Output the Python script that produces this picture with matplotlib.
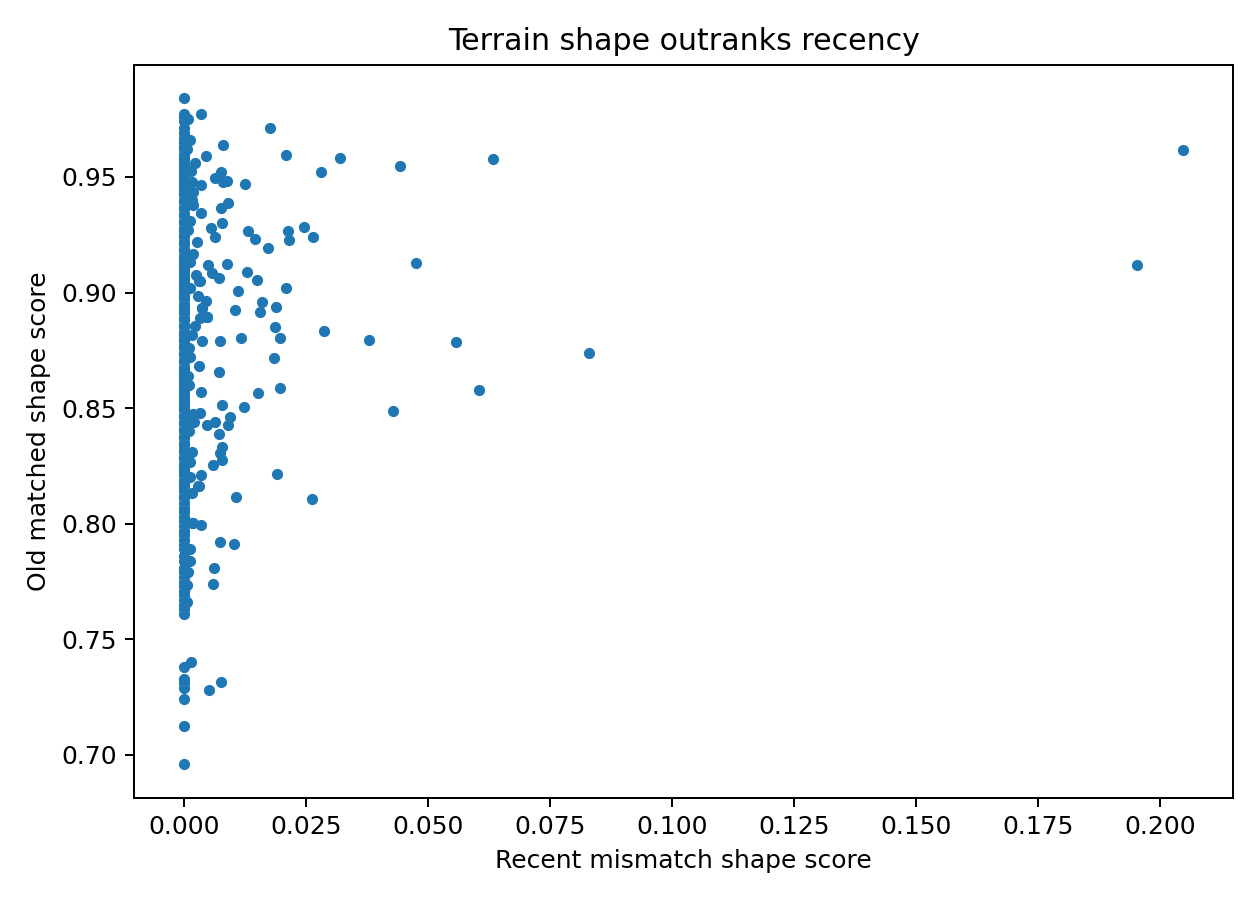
import matplotlib
matplotlib.use("Agg")
from matplotlib import pyplot as plt  # noqa: E402
import numpy as np                      # noqa: E402

# Points sitting right on x = 0 (the dense column)
column_old = [
    0.984, 0.977, 0.976, 0.974, 0.971, 0.969, 0.967, 0.965, 0.9635, 0.962,
    0.960, 0.958, 0.957, 0.9553, 0.954, 0.952, 0.9508, 0.949, 0.948, 0.946,
    0.9447, 0.943, 0.942, 0.940, 0.939, 0.9372, 0.936, 0.934, 0.933, 0.931,
    0.930, 0.928, 0.9268, 0.925, 0.924, 0.922, 0.921, 0.919, 0.9178, 0.916,
    0.915, 0.913, 0.912, 0.910, 0.909, 0.907, 0.9058, 0.904, 0.903, 0.901,
    0.900, 0.898, 0.897, 0.895, 0.8938, 0.892, 0.891, 0.889, 0.888, 0.886,
    0.885, 0.883, 0.8818, 0.880, 0.879, 0.877, 0.876, 0.874, 0.873, 0.871,
    0.870, 0.868, 0.8668, 0.865, 0.864, 0.862, 0.861, 0.859, 0.858, 0.856,
    0.855, 0.853, 0.8518, 0.850, 0.849, 0.847, 0.846, 0.844, 0.843, 0.841,
    0.840, 0.838, 0.837, 0.835, 0.834, 0.832, 0.831, 0.829, 0.828, 0.826,
    0.824, 0.823, 0.821, 0.819, 0.817, 0.816, 0.814, 0.812, 0.811, 0.809,
    0.807, 0.805, 0.803, 0.801, 0.799, 0.797, 0.795, 0.793, 0.791, 0.789,
    0.786, 0.784, 0.781, 0.779, 0.777, 0.775, 0.773, 0.771, 0.769, 0.767,
    0.765, 0.763, 0.761, 0.738, 0.733, 0.731, 0.729, 0.724, 0.7125, 0.696,
]

# Points hugging the column, slightly right of zero
near_recent = [
    0.0008, 0.0012, 0.0006, 0.0022, 0.0014, 0.0016, 0.0018, 0.0010, 0.0016, 0.0018,
    0.0012, 0.0008, 0.0026, 0.0018, 0.0012, 0.0025, 0.0030, 0.0012, 0.0028, 0.0036,
    0.0046, 0.0032, 0.0023, 0.0016, 0.0010, 0.0012, 0.0030, 0.0008, 0.0010, 0.0018,
    0.0016, 0.0010, 0.0015, 0.0012, 0.0028, 0.0015, 0.0012, 0.0018, 0.0016, 0.0011,
    0.0011, 0.0008, 0.0006, 0.0014, 0.0006, 0.0020,
]
near_old = [
    0.975, 0.966, 0.962, 0.956, 0.9526, 0.9478, 0.9436, 0.9433, 0.940, 0.9378,
    0.931, 0.927, 0.9217, 0.9167, 0.913, 0.9077, 0.9051, 0.902, 0.8983, 0.8935,
    0.8894, 0.8889, 0.8855, 0.8815, 0.8758, 0.8721, 0.8681, 0.864, 0.860, 0.8476,
    0.845, 0.840, 0.8312, 0.8266, 0.8163, 0.8135, 0.820, 0.8003, 0.8004, 0.7891,
    0.7838, 0.7791, 0.7737, 0.7403, 0.766, 0.844,
]

# Points spread out to the right
spread_recent = [
    0.0035, 0.0176, 0.0080, 0.0044, 0.0209, 0.0320, 0.0632, 0.0442, 0.0281, 0.0076,
    0.0063, 0.0080, 0.0088, 0.0035, 0.0125, 0.0089, 0.0076, 0.0035, 0.0054, 0.0078,
    0.0064, 0.0131, 0.0146, 0.0172, 0.0213, 0.0215, 0.0246, 0.0264, 0.0048, 0.0087,
    0.0475, 0.0058, 0.0072, 0.0128, 0.0150, 0.0032, 0.0111, 0.0209, 0.0044, 0.0036,
    0.0160, 0.0156, 0.0189, 0.0105, 0.0046, 0.0187, 0.0287, 0.0197, 0.0117, 0.0074,
    0.0036, 0.0379, 0.0557, 0.0829, 0.0185, 0.0072, 0.0034, 0.0152, 0.0197, 0.0604,
    0.0078, 0.0123, 0.0428, 0.0033, 0.0093, 0.0046, 0.0064, 0.0089, 0.0072, 0.0078,
    0.0074, 0.0078, 0.0060, 0.0034, 0.0191, 0.0031, 0.0107, 0.0262, 0.0035, 0.0074,
    0.0103, 0.0062, 0.0060, 0.0051, 0.0075, 0.1953, 0.2047,
]
spread_old = [
    0.9770, 0.9710, 0.9638, 0.9590, 0.9594, 0.9581, 0.9577, 0.9547, 0.9520, 0.9522,
    0.9496, 0.9478, 0.9481, 0.9464, 0.9468, 0.9386, 0.9364, 0.9342, 0.9278, 0.9299,
    0.9242, 0.9264, 0.9233, 0.9194, 0.9268, 0.9229, 0.9283, 0.9238, 0.9120, 0.9125,
    0.9129, 0.9083, 0.9064, 0.9090, 0.9055, 0.9049, 0.9007, 0.9020, 0.8965, 0.8935,
    0.8960, 0.8916, 0.8938, 0.8925, 0.8894, 0.8851, 0.8833, 0.8803, 0.8803, 0.8790,
    0.8790, 0.8794, 0.8786, 0.8738, 0.8716, 0.8655, 0.8571, 0.8564, 0.8586, 0.8577,
    0.8512, 0.8503, 0.8486, 0.8477, 0.8461, 0.8426, 0.8438, 0.8425, 0.8390, 0.8333,
    0.8307, 0.8277, 0.8255, 0.8212, 0.8216, 0.8164, 0.8116, 0.8107, 0.7994, 0.7920,
    0.7912, 0.7810, 0.7740, 0.7280, 0.7316, 0.9119, 0.9615,
]

recent = np.concatenate([np.zeros(len(column_old)), near_recent, spread_recent])
old = np.concatenate([column_old, near_old, spread_old])

fig, ax = plt.subplots(figsize=(7, 5), dpi=180)
ax.scatter(recent, old, s=12, color="#1f77b4")
ax.set_title("Terrain shape outranks recency")
ax.set_xlabel("Recent mismatch shape score")
ax.set_ylabel("Old matched shape score")
ax.set_xticks([0.0, 0.025, 0.05, 0.075, 0.1, 0.125, 0.15, 0.175, 0.2])
ax.xaxis.set_major_formatter(matplotlib.ticker.FormatStrFormatter("%.3f"))
fig.tight_layout()
fig.savefig("out.png", dpi=180)
